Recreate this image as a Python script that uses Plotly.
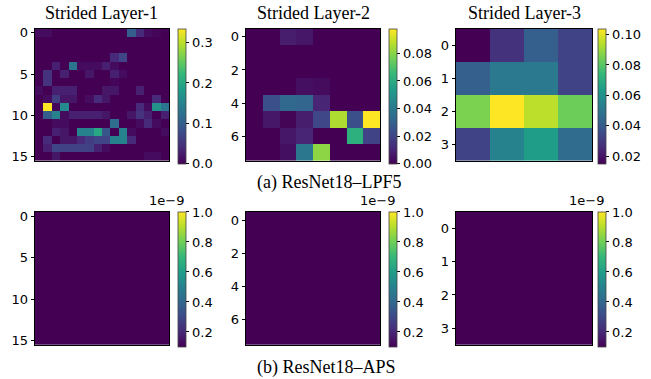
import numpy as np
import plotly.graph_objects as go

# ---------------- data ----------------
titles = ["Strided Layer-1", "Strided Layer-2", "Strided Layer-3"]
captions = ["(a) ResNet18\u2013LPF5", "(b) ResNet18\u2013APS"]

lpf_layer1 = [
    [.01, .01, 0, 0, 0, 0, 0, 0, 0, 0, 0, .10, .04, .01, .005, 0],
    [0, 0, 0, 0, 0, 0, 0, 0, 0, 0, 0, 0, 0, 0, 0, 0],
    [0, 0, 0, 0, 0, 0, 0, 0, 0, 0, 0, 0, 0, 0, 0, 0],
    [0, 0, 0, 0, 0, 0, 0, 0, 0, .04, .07, 0, 0, 0, 0, 0],
    [0, 0, .03, 0, .13, .01, .01, .01, .03, .01, 0, 0, 0, 0, 0, 0],
    [0, .05, 0, .03, 0, 0, .02, 0, 0, .03, .01, 0, 0, 0, 0, 0],
    [0, .05, 0, 0, 0, 0, 0, 0, 0, .005, 0, 0, 0, 0, 0, 0],
    [.01, 0, .03, .03, .03, 0, 0, 0, .02, .02, 0, 0, .03, 0, 0, 0],
    [0, .01, .06, .02, .02, 0, .01, .04, .02, 0, 0, 0, 0, 0, .04, 0],
    [0, .335, .005, .16, 0, 0, 0, 0, 0, 0, 0, 0, .04, .01, .17, .13],
    [0, .10, .15, .01, .03, .03, .03, .03, .02, 0, 0, .02, .05, .03, 0, .03],
    [0, 0, .01, .01, 0, 0, 0, 0, 0, .12, 0, 0, .01, .04, .01, 0],
    [0, 0, .03, .02, 0, .15, .15, .20, .09, 0, .15, .01, 0, 0, 0, .01],
    [0, .04, 0, .02, .02, .04, .06, .07, .07, .15, .15, .04, 0, 0, 0, 0],
    [0, .03, .07, .065, .065, .065, .065, .03, .01, 0, 0, 0, 0, 0, 0, 0],
    [0, 0, .02, 0, 0, 0, 0, 0, 0, 0, 0, 0, 0, .01, .01, 0],
]

lpf_layer2 = [
    [0, 0, .008, .006, 0, 0, 0, 0],
    [0, 0, 0, 0, 0, 0, 0, 0],
    [0, 0, 0, 0, 0, 0, 0, 0],
    [0, 0, 0, .004, .003, 0, 0, 0],
    [0, .024, .033, .032, .010, 0, 0, 0],
    [0, .006, .001, .008, .021, .086, .024, .098],
    [0, 0, .006, .010, 0, 0, .062, .020],
    [0, 0, .004, .039, .081, 0, 0, 0],
]

lpf_layer3 = [
    [.015, .028, .042, .033],
    [.042, .051, .051, .033],
    [.086, .104, .095, .084],
    [.033, .055, .064, .046],
]

aps_layer1 = np.zeros((16, 16)).tolist()
aps_layer2 = np.zeros((8, 8)).tolist()
aps_layer3 = np.zeros((4, 4)).tolist()

y_ticks = [[0, 5, 10, 15], [0, 2, 4, 6], [0, 1, 2, 3]]
cb_ticks_lpf = [[0.0, 0.1, 0.2, 0.3], [0.00, 0.02, 0.04, 0.06, 0.08],
                [0.02, 0.04, 0.06, 0.08, 0.10]]
cb_fmt_lpf = [".1f", ".2f", ".2f"]
cb_range_lpf = [(0.0, 0.335), (0.0, 0.098), (0.015, 0.104)]
aps_ticks = [0.2e-9, 0.4e-9, 0.6e-9, 0.8e-9, 1.0e-9]
aps_ticktext = ["0.2", "0.4", "0.6", "0.8", "1.0"]
aps_range = (0.1e-9, 1.0e-9)

# ---------------- layout geometry (pixels) ----------------
W, H = 651, 379
def px(x):
    return x / W
def py(y):
    return 1 - y / H

col_x = [(35, 169), (246, 380), (456, 592)]
cb_x = [178, 389, 598]
row_y = [(26, 160.5), (212.3, 347.3)]

TICKFONT = dict(family="DejaVu Sans", size=13, color="black")
SERIF = "Liberation Serif"

fig = go.Figure()
lpf = [lpf_layer1, lpf_layer2, lpf_layer3]
aps = [aps_layer1, aps_layer2, aps_layer3]

k = 0
for r in range(2):
    for c in range(3):
        k += 1
        xa = "x" if k == 1 else f"x{k}"
        ya = "y" if k == 1 else f"y{k}"
        z = lpf[c] if r == 0 else aps[c]
        n = len(z)
        y0, y1 = row_y[r]
        if r == 0:
            zmin, zmax = cb_range_lpf[c]
            cb = dict(tickvals=cb_ticks_lpf[c], tickformat=cb_fmt_lpf[c])
        else:
            zmin, zmax = aps_range
            cb = dict(tickvals=aps_ticks, ticktext=aps_ticktext)
        cb.update(dict(
            x=px(cb_x[c]), xanchor="left", xref="paper",
            y=py(y0), yanchor="top", yref="paper",
            thickness=8, thicknessmode="pixels",
            len=(y1 - y0), lenmode="pixels",
            xpad=0, ypad=0,
            outlinewidth=0.8, outlinecolor="#444",
            ticks="outside", ticklen=3.5, tickwidth=0.8, tickcolor="black",
            tickfont=TICKFONT,
        ))
        fig.add_trace(go.Heatmap(
            z=z, x=list(range(n)), y=list(range(n)),
            colorscale="Viridis", zmin=zmin, zmax=zmax,
            colorbar=cb, xaxis=xa, yaxis=ya, hoverinfo="skip",
        ))
        fig.layout[("xaxis" if k == 1 else f"xaxis{k}")] = dict(
            domain=[px(col_x[c][0]), px(col_x[c][1])],
            range=[-0.5, n - 0.5], anchor=ya,
            showticklabels=False, ticks="", showgrid=False, zeroline=False,
            showline=True, mirror=True, linecolor="black", linewidth=0.8,
        )
        fig.layout[("yaxis" if k == 1 else f"yaxis{k}")] = dict(
            domain=[py(y1), py(y0)],
            range=[n - 0.5, -0.5], anchor=xa,
            tickvals=y_ticks[c], ticks="outside", ticklen=3.5, tickwidth=0.8,
            tickcolor="black", tickfont=TICKFONT,
            showgrid=False, zeroline=False,
            showline=True, mirror=True, linecolor="black", linewidth=0.8,
        )
        if r == 1:
            fig.add_annotation(
                text="1e\u22129", x=px(cb_x[c] + 8), y=py(y0 - 2),
                xref="paper", yref="paper", xanchor="right", yanchor="bottom",
                showarrow=False, font=TICKFONT,
            )

for c in range(3):
    fig.add_annotation(
        text=titles[c], x=px((col_x[c][0] + col_x[c][1]) / 2), y=py(10),
        xref="paper", yref="paper", xanchor="center", yanchor="middle",
        showarrow=False, font=dict(family=SERIF, size=18, color="black"),
    )

for i, yy in enumerate([182, 370]):
    fig.add_annotation(
        text=captions[i], x=px(255), y=py(yy),
        xref="paper", yref="paper", xanchor="left", yanchor="middle",
        showarrow=False, font=dict(family=SERIF, size=18, color="black"),
    )

fig.update_layout(
    width=W, height=H, margin=dict(l=0, r=0, t=0, b=0),
    paper_bgcolor="white", plot_bgcolor="white", showlegend=False,
)

fig.write_html(
    "out.html",
    config={"displayModeBar": False},
    post_script="document.body.style.margin='0';document.body.style.overflow='hidden';",
)
